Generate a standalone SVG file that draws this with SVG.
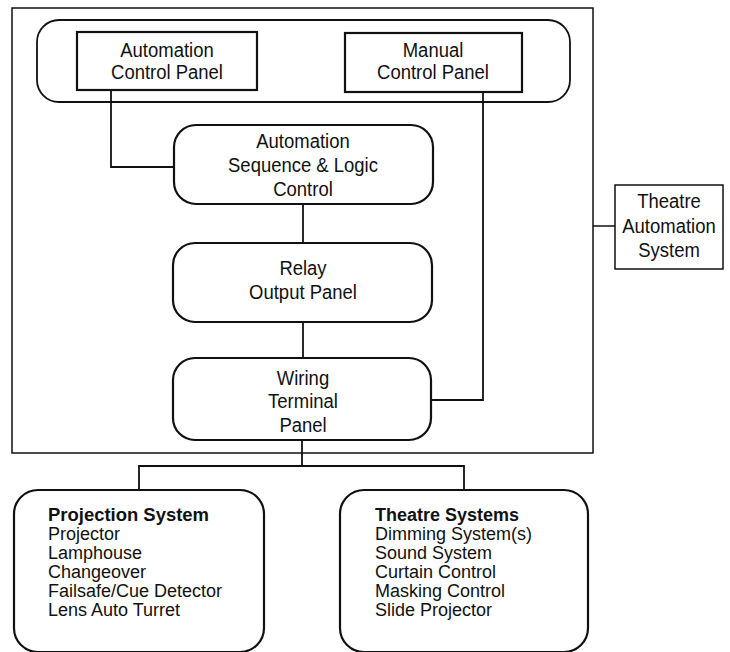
<svg xmlns="http://www.w3.org/2000/svg" width="730" height="652" viewBox="0 0 730 652">
<style>
.box{fill:none;stroke:#111;stroke-width:2.2}
.thin{fill:none;stroke:#111;stroke-width:1.5}
.ln{fill:none;stroke:#111;stroke-width:1.8}
text{font-family:"Liberation Sans",Arial,sans-serif;fill:#111;font-size:21px}
.c{text-anchor:middle}
.l{font-size:18px}
.b{font-weight:bold;font-size:18px}
</style>
<rect width="730" height="652" fill="#fff"/>
<g id="outer"><rect class="thin" x="12" y="8" width="581" height="445"/></g>
<g id="control-group"><rect class="ln" x="37" y="20" width="533" height="82" rx="22"/></g>
<g id="automation-control-panel">
<rect class="box" x="77" y="32" width="180" height="58"/>
<text class="c" transform="translate(167 57) scale(0.88 1)">Automation</text>
<text class="c" transform="translate(167 79) scale(0.88 1)">Control Panel</text>
</g>
<g id="manual-control-panel">
<rect class="box" x="345" y="33" width="177" height="59"/>
<text class="c" transform="translate(433 57) scale(0.88 1)">Manual</text>
<text class="c" transform="translate(433 79) scale(0.88 1)">Control Panel</text>
</g>
<g id="sequence-logic">
<rect class="box" x="174" y="125" width="259" height="79" rx="22"/>
<text class="c" transform="translate(303 148) scale(0.88 1)">Automation</text>
<text class="c" transform="translate(303 172) scale(0.88 1)">Sequence &amp; Logic</text>
<text class="c" transform="translate(303 196) scale(0.88 1)">Control</text>
</g>
<g id="relay-output">
<rect class="box" x="173" y="243" width="259" height="79" rx="22"/>
<text class="c" transform="translate(303 275) scale(0.88 1)">Relay</text>
<text class="c" transform="translate(303 299) scale(0.88 1)">Output Panel</text>
</g>
<g id="wiring-terminal">
<rect class="box" x="173" y="358" width="258" height="82" rx="22"/>
<text class="c" transform="translate(303 385) scale(0.88 1)">Wiring</text>
<text class="c" transform="translate(303 408) scale(0.88 1)">Terminal</text>
<text class="c" transform="translate(303 432) scale(0.88 1)">Panel</text>
</g>
<g id="theatre-automation-system">
<rect class="thin" x="615" y="185" width="108" height="84"/>
<text class="c" transform="translate(669 208) scale(0.88 1)">Theatre</text>
<text class="c" transform="translate(669 233) scale(0.88 1)">Automation</text>
<text class="c" transform="translate(669 257) scale(0.88 1)">System</text>
</g>
<g id="projection-system">
<rect class="box" x="14" y="490" width="250" height="162" rx="24"/>
<text class="b" x="48" y="521" textLength="161" lengthAdjust="spacingAndGlyphs">Projection System</text>
<text class="l" x="48" y="540">Projector</text>
<text class="l" x="48" y="559">Lamphouse</text>
<text class="l" x="48" y="578">Changeover</text>
<text class="l" x="48" y="597">Failsafe/Cue Detector</text>
<text class="l" x="48" y="616">Lens Auto Turret</text>
</g>
<g id="theatre-systems">
<rect class="box" x="340" y="490" width="248" height="162" rx="24"/>
<text class="b" x="375" y="521" textLength="144" lengthAdjust="spacingAndGlyphs">Theatre Systems</text>
<text class="l" x="375" y="540">Dimming System(s)</text>
<text class="l" x="375" y="559">Sound System</text>
<text class="l" x="375" y="578">Curtain Control</text>
<text class="l" x="375" y="597">Masking Control</text>
<text class="l" x="375" y="616">Slide Projector</text>
</g>
<g id="connectors">
<polyline class="ln" points="111,90 111,167 174,167"/>
<line class="ln" x1="303" y1="204" x2="303" y2="243"/>
<line class="ln" x1="303" y1="322" x2="303" y2="358"/>
<polyline class="ln" points="483,92 483,400 431,400"/>
<line class="thin" x1="593" y1="226" x2="615" y2="226"/>
<line class="ln" x1="302" y1="440" x2="302" y2="466"/>
<polyline class="ln" points="139,490 139,466 464,466 464,490"/>
</g>
</svg>
